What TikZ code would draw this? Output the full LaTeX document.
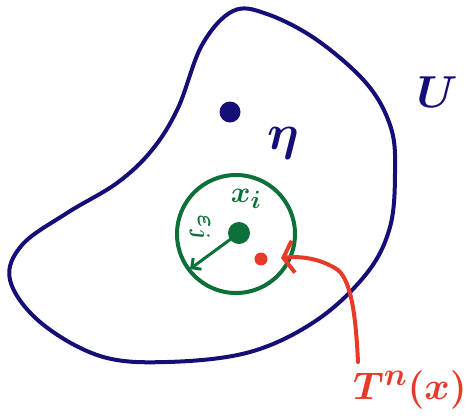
\documentclass[tikz,border=0pt]{standalone}
\usetikzlibrary{arrows.meta}
\definecolor{navy}{RGB}{20,14,118}
\definecolor{dgreen}{RGB}{12,112,56}
\definecolor{hred}{RGB}{232,58,40}
\begin{document}
\begin{tikzpicture}[x=1pt,y=-1pt,
  blob/.style={draw=navy,line width=4pt,line join=round},
  ball/.style={draw=dgreen,line width=4pt},
  lbl/.style={inner sep=0pt,font=\Huge\boldmath}]
\useasboundingbox (0,0) rectangle (471,416);
% set U
\draw[blob] plot[smooth cycle,tension=0.6] coordinates {
 (233,11) (267,14) (317,40) (367,84) (391,128) (395,173) (390,227)
 (367,273) (317,320) (250,352) (167,362) (100,356) (40,322) (10,280)
 (22,245) (67,213) (117,183) (152,150) (178,108) (202,45)};
\node[lbl,text=navy,scale=1.8] (U) at (437,92) {$U$};
\fill[navy] (230,112) circle (10.5) coordinate (eta0);
\node[lbl,text=navy,scale=2.0] (eta) at (283,143) {$\eta$};
% ball
\coordinate (B) at (236,234);
\draw[ball] (B) circle (59);
\fill[dgreen] (239,233) circle (11) coordinate (c);
\coordinate (rim) at (190,269);
\draw[dgreen,line width=3pt,line cap=round,-{Straight Barb[length=7pt,width=14pt,line width=3pt]}] (c) -- (rim);
\node[lbl,text=dgreen,scale=1.2] (xi) at (246,199) {$x_i$};
\node[lbl,text=dgreen,scale=1.05,rotate=-82] (rj) at (200,228) {$\varepsilon_j$};
% point
\fill[hred] (261,259) circle (6.5) coordinate (p);
\node[lbl,text=hred,scale=1.55] (T) at (410,390) {$T^n(x)$};
\coordinate (tail) at (358,362);
\coordinate (tip) at (281,258);
\draw[hred,line width=4pt,line cap=round,line join=round,-{Straight Barb[length=10pt,width=32pt,line width=4pt]}]
  (tail) .. controls (356,320) and (352,282) .. (338,270)
  .. controls (320,258) and (300,256) .. (tip);
\end{tikzpicture}
\end{document}
